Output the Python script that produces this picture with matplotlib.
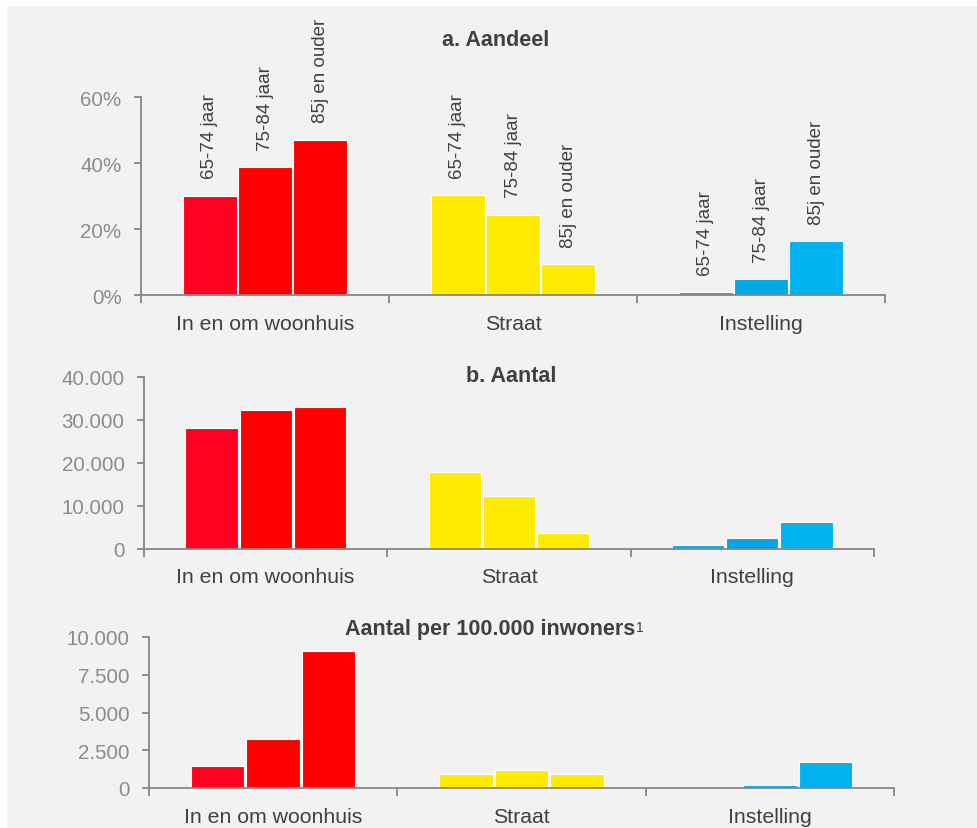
import matplotlib.pyplot as plt
from matplotlib.patches import Rectangle
from matplotlib.ticker import FuncFormatter

plt.rcParams['font.family'] = ['Liberation Sans', 'DejaVu Sans']

plaatsen = ["In en om woonhuis", "Straat", "Instelling"]
leeftijden = ["65-74 jaar", "75-84 jaar", "85j en ouder"]

# aandeel per leeftijdsgroep (fractie), per plaats
aandeel_woonhuis = [0.301, 0.387, 0.471]
aandeel_straat = [0.302, 0.243, 0.094]
aandeel_instelling = [0.009, 0.048, 0.164]

# aantal
aantal_woonhuis = [28000, 32200, 32900]
aantal_straat = [17800, 12150, 3600]
aantal_instelling = [700, 2450, 6200]

# aantal per 100.000 inwoners
per100k_woonhuis = [1480, 3250, 9100]
per100k_straat = [930, 1170, 950]
per100k_instelling = [0, 200, 1700]

kleuren = [
    ["#ff0020", "#ff0000", "#ff0000"],
    ["#ffeb00", "#ffeb00", "#ffeb00"],
    ["#00b0f0", "#00a8e8", "#00b2f0"],
]

grijs_as = "#868686"
grijs_tick = "#8c8c8c"
donker = "#404040"

fig = plt.figure(figsize=(9.78, 8.29), dpi=100, facecolor="white")
# grijze achtergrond, met witte rand links en boven
fig.add_artist(Rectangle((7 / 978, 0), 1, 1 - 7 / 829, transform=fig.transFigure,
                         facecolor="#f2f2f2", edgecolor="none", zorder=-5))


def thousands(v, pos):
    return f"{int(v):,}".replace(",", ".")


def teken(ax, reeksen, ymax, yticks, fmt, bw=0.215, stap=0.222, labels=False):
    ax.set_facecolor("none")
    for i, waarden in enumerate(reeksen):
        for j, v in enumerate(waarden):
            x = i + 0.5 + (j - 1) * stap
            ax.bar(x, v, width=bw, color=kleuren[i][j], edgecolor="white",
                   linewidth=0.8, zorder=2)
            if labels:
                ax.annotate(leeftijden[j], (x, v), xytext=(0, 12.5),
                            textcoords="offset points", rotation=90,
                            ha="center", va="bottom", fontsize=13.5,
                            color=donker, annotation_clip=False)
    ax.set_xlim(0, 3)
    ax.set_ylim(0, ymax)
    ax.set_yticks(yticks)
    ax.yaxis.set_major_formatter(FuncFormatter(fmt))
    ax.set_xticks([0, 1, 2, 3])
    ax.set_xticklabels([])
    ax.set_xticks([0.5, 1.5, 2.5], minor=True)
    ax.set_xticklabels(plaatsen, minor=True)
    ax.tick_params(axis="x", which="major", length=5.5, width=1.3, color=grijs_as)
    ax.tick_params(axis="x", which="minor", length=0, pad=13.5, labelsize=15.3,
                   labelcolor=donker)
    ax.tick_params(axis="y", length=5, width=1.3, color=grijs_as, pad=9,
                   labelsize=14.8, labelcolor=grijs_tick)
    for s in ["top", "right"]:
        ax.spines[s].set_visible(False)
    for s in ["left", "bottom"]:
        ax.spines[s].set_color(grijs_as)
        ax.spines[s].set_linewidth(1.3)


ax1 = fig.add_axes([141 / 978, 1 - 296 / 829, 744 / 978, 198 / 829])
teken(ax1, [aandeel_woonhuis, aandeel_straat, aandeel_instelling], 0.6,
      [0, 0.2, 0.4, 0.6], lambda v, p: f"{v * 100:.0f}%", labels=True)

ax2 = fig.add_axes([144 / 978, 1 - 549.5 / 829, 730 / 978, 171.5 / 829])
teken(ax2, [aantal_woonhuis, aantal_straat, aantal_instelling], 40000,
      [0, 10000, 20000, 30000, 40000], thousands)

ax3 = fig.add_axes([149 / 978, 1 - 789 / 829, 745 / 978, 151 / 829])
teken(ax3, [per100k_woonhuis, per100k_straat, per100k_instelling], 10000,
      [0, 2500, 5000, 7500, 10000], thousands, stap=0.224)

fig.text(496 / 978, 1 - 41 / 829, "a. Aandeel", ha="center", va="center",
         fontsize=15.5, fontweight="bold", color=donker)
fig.text(511 / 978, 1 - 377 / 829, "b. Aantal", ha="center", va="center",
         fontsize=15.5, fontweight="bold", color=donker)
t3 = fig.text(490 / 978, 1 - 630 / 829, "Aantal per 100.000 inwoners",
              ha="center", va="center", fontsize=15.5, fontweight="bold", color=donker)
# voetnootverwijzing achter de titel
ax3.annotate("1", xy=(1.0, 1.0), xycoords=t3, xytext=(0.5, -1),
             textcoords="offset points", ha="left", va="top",
             fontsize=10, color=donker, annotation_clip=False)

# witte strook boven de grafiek (bedekt ook uitstekende labels)
fig.add_artist(Rectangle((0, 1 - 7 / 829), 1, 7 / 829, transform=fig.transFigure,
                         facecolor="white", edgecolor="none", zorder=10))

fig.savefig("out.png", dpi=100, facecolor=fig.get_facecolor())
